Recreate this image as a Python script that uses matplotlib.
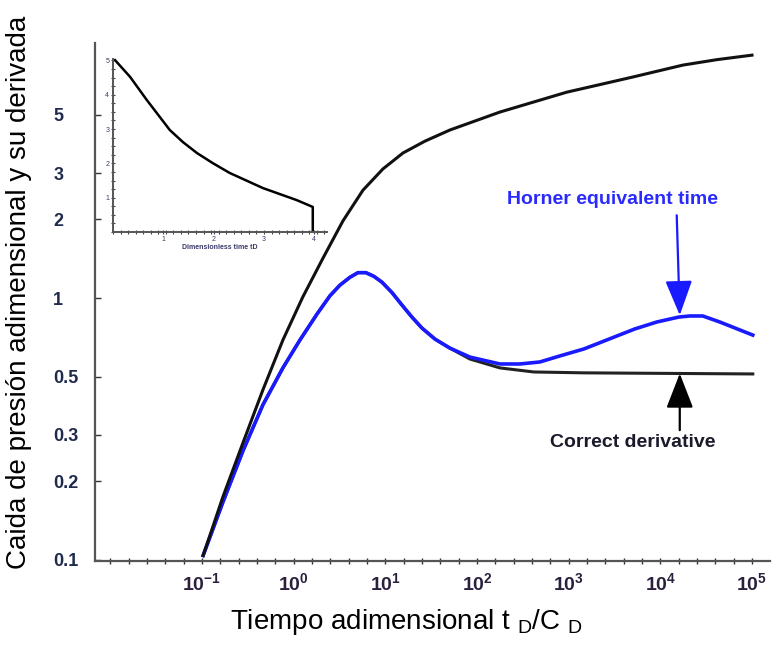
import numpy as np
import matplotlib
matplotlib.use("Agg")
import matplotlib.pyplot as plt
from matplotlib import font_manager
from matplotlib.ticker import FixedLocator, NullFormatter

# pressure drop pD (black)
pd_t = [0.103, 0.169, 0.280, 0.462, 0.763, 1.26, 2.09, 3.45, 5.70, 9.41, 15.6, 27.0,
        50.6, 178, 955, 2188, 5012, 17580, 41300, 100000]
pd_p = [0.104, 0.174, 0.280, 0.446, 0.691, 1.01, 1.42, 1.97, 2.58, 3.11, 3.58, 3.97,
        4.38, 5.13, 6.11, 6.53, 6.98, 7.75, 8.13, 8.46]

# derivative with Horner equivalent time (blue)
horner_t = [0.103, 0.169, 0.280, 0.462, 0.763, 1.17, 1.80, 2.49, 3.20, 4.11, 5.03, 6.14,
            7.51, 9.18, 11.8, 15.2, 19.5, 25.1, 34.8, 50.6, 83.7, 178, 294, 485, 802,
            1466, 5272, 9160, 15920, 20990, 29040, 44570, 102000]
horner_d = [0.104, 0.166, 0.261, 0.391, 0.541, 0.691, 0.869, 1.02, 1.12, 1.20, 1.25, 1.25,
            1.21, 1.15, 1.05, 0.940, 0.846, 0.768, 0.697, 0.644, 0.595, 0.560, 0.560, 0.570,
            0.601, 0.639, 0.762, 0.810, 0.846, 0.854, 0.854, 0.810, 0.722]

# correct derivative (black, hidden under blue at early time)
deriv_t = [0.103, 0.169, 0.280, 0.462, 0.763, 1.17, 1.80, 2.49, 3.20, 4.11, 5.03, 6.14,
           7.51, 9.18, 11.8, 15.2, 19.5, 25.1, 34.8, 50.6, 83.7, 178, 417, 1466, 102000]
deriv_d = [0.104, 0.166, 0.261, 0.391, 0.541, 0.691, 0.869, 1.02, 1.12, 1.20, 1.25, 1.25,
           1.21, 1.15, 1.05, 0.940, 0.846, 0.768, 0.697, 0.644, 0.585, 0.541, 0.522, 0.518,
           0.513]

# inset: buildup curve
inset_x = [0.04, 0.34, 0.67, 1.13, 1.39, 1.67, 1.98, 2.32, 2.98, 3.65, 3.97, 3.97]
inset_y = [5.01, 4.52, 3.85, 2.97, 2.62, 2.30, 2.01, 1.72, 1.28, 0.93, 0.73, 0.0]

xticks = [0.1, 1, 10, 100, 1000, 10000, 100000]
xtick_labels = [r"$\mathregular{10^{-1}}$", r"$\mathregular{10^{0}}$", r"$\mathregular{10^{1}}$",
                r"$\mathregular{10^{2}}$", r"$\mathregular{10^{3}}$", r"$\mathregular{10^{4}}$",
                r"$\mathregular{10^{5}}$"]
yticks = [0.1, 0.2, 0.3, 0.5, 1, 2, 3, 5]
ytick_labels = ["0.1", "0.2", "0.3", "0.5", "1", "2", "3", "5"]

names = {f.name for f in font_manager.fontManager.ttflist}
narrow = "Liberation Sans Narrow" if "Liberation Sans Narrow" in names else "Liberation Sans"
plt.rcParams["font.family"] = ["Liberation Sans", "DejaVu Sans"]

fig = plt.figure(figsize=(7.72, 6.64), dpi=100)
ax = fig.add_axes([0.123, 0.155, 0.874, 0.780])

ax.plot(deriv_t, deriv_d, color="#222222", lw=2.2, zorder=2, solid_joinstyle="round")
ax.plot(horner_t, horner_d, color="#1a1aff", lw=2.6, zorder=3, solid_joinstyle="round")
ax.plot(pd_t, pd_p, color="#111111", lw=2.2, zorder=3, solid_joinstyle="round")

ax.set_xscale("log")
ax.set_yscale("log")
ax.set_xlim(0.0068, 156000)
ax.set_ylim(0.099, 9.4)

for s in ["top", "right"]:
    ax.spines[s].set_visible(False)
for s in ["left", "bottom"]:
    ax.spines[s].set_color("#555555")
    ax.spines[s].set_linewidth(1.6)

ax.set_xticks(xticks, labels=xtick_labels)
ax.xaxis.set_minor_locator(FixedLocator(10 ** np.arange(-2.2, 5.21, 0.2)))
ax.xaxis.set_minor_formatter(NullFormatter())
ax.tick_params(axis="x", which="both", direction="inout", length=4, width=1, color="#333333")
ax.tick_params(axis="x", which="major", pad=6)
for lbl in ax.get_xticklabels():
    lbl.set_fontfamily(narrow)
    lbl.set_fontweight("bold")
    lbl.set_fontsize(14)
    lbl.set_color("#2a1f3d")

ax.set_yticks(yticks, labels=ytick_labels)
ax.yaxis.set_minor_locator(FixedLocator([]))
ax.tick_params(axis="y", which="major", direction="in", length=4, width=1, color="#333333", pad=30)
for lbl in ax.get_yticklabels():
    lbl.set_ha("left")
    lbl.set_fontfamily(narrow)
    lbl.set_fontweight("bold")
    lbl.set_fontsize(13)
    lbl.set_color("#1f2a4d")

ax.set_xlabel(r"Tiempo adimensional t $\mathregular{_D}$/C $\mathregular{_D}$", fontsize=20)
ax.xaxis.set_label_coords(0.462, -0.088)
ax.xaxis.label.set_va("top")
ax.set_ylabel("Caida de presión adimensional y su derivada", fontsize=20)
ax.yaxis.set_label_coords(-0.094, 0.519)

# annotations
ax.text(3030, 2.37, "Horner equivalent time", color="#2a2aff", fontsize=14,
        fontfamily=narrow, fontweight="bold", ha="center", va="center")
ax.annotate("", xy=(16300, 0.86), xytext=(15100, 2.07),
            arrowprops=dict(arrowstyle="-|>,head_length=1.08,head_width=0.42",
                            mutation_scale=20, color="#1a1aff", lw=1.6,
                            shrinkA=0, shrinkB=0))
ax.text(5010, 0.28, "Correct derivative", color="#1a1a2a", fontsize=14,
        fontfamily=narrow, fontweight="bold", ha="center", va="center")
ax.annotate("", xy=(16300, 0.515), xytext=(16300, 0.313),
            arrowprops=dict(arrowstyle="-|>,head_length=1.08,head_width=0.42",
                            mutation_scale=20, color="black", lw=1.6,
                            shrinkA=0, shrinkB=0))

# inset
ins = fig.add_axes([0.1464, 0.6506, 0.277, 0.2816])
ins.set_facecolor("none")
ins.plot(inset_x, inset_y, color="black", lw=1.8)
ins.set_xlim(0, 4.25)
ins.set_ylim(0, 5.45)
for s in ["top", "right"]:
    ins.spines[s].set_visible(False)
for s in ["left", "bottom"]:
    ins.spines[s].set_color("#555555")
    ins.spines[s].set_linewidth(1.4)
ins.spines["left"].set_bounds(0, 5.05)
ins.set_xticks([1, 2, 3, 4], labels=["1", "2", "3", "4"])
ins.set_yticks([1, 2, 3, 4, 5], labels=["1", "2", "3", "4", "5"])
ins.xaxis.set_minor_locator(FixedLocator(np.arange(0, 4.3, 0.15)))
ins.yaxis.set_minor_locator(FixedLocator(np.arange(0, 5.1, 0.25)))
ins.tick_params(which="both", direction="inout", length=2.5, width=0.8, color="#444444",
                labelsize=5, pad=1.5, labelcolor="#3a3a6a")
ins.set_xlabel("Dimensionless time tD", fontsize=5, fontweight="bold", labelpad=1, color="#3a3a6a")

fig.savefig("out.png", dpi=100)
